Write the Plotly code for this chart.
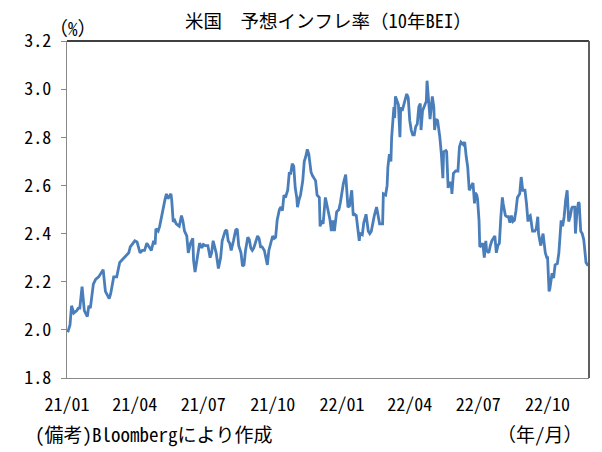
import pandas as pd
import plotly.graph_objects as go

# 10y breakeven inflation, US (%).
# day_offset = days since START, bei = value on that day
START = "2021-01-01"
END_OFFSET = 693

day_offset = [
    # 2021 Q1 - Q2
    1, 4, 6, 9, 13, 15, 17, 20, 23, 27, 29, 31, 35, 38, 42, 45, 48, 51, 56, 58,
    62, 66, 68, 70, 73, 76, 79, 82, 84, 87, 90, 93, 97, 100, 103, 106, 109, 112, 115,
    117, 118, 121, 123, 127, 130, 132, 134, 138, 139, 141, 143, 145, 149, 152, 154,
    156, 159, 161, 164, 167, 168, 170, 173, 176, 179,
    # 2021 Q3 - Q4
    181, 184, 187, 190, 192, 194, 198, 201, 204, 206, 210, 212, 214, 216, 218, 221,
    224, 226, 228, 231, 233, 235, 237, 240, 242, 244, 246, 248, 251, 253, 255, 257,
    259, 262, 264, 266, 268, 271, 273, 275, 277, 279, 282, 284, 286, 288, 290, 293,
    295, 297, 299, 301, 303, 305, 306, 308, 310, 313, 315, 317, 319, 321, 324, 326,
    328, 330, 332, 335, 336, 338, 340, 343, 349, 351, 353, 355, 358, 361, 363,
    # 2022 Q1 - Q2
    366, 367, 370, 371, 373, 375, 378, 380, 382, 384, 386, 388, 389, 392, 394, 397,
    400, 402, 404, 406, 408, 411, 413, 415, 419, 420, 423, 425, 426, 428, 430, 431,
    434, 435, 436, 438, 440, 442, 443, 445, 447, 450, 451, 453, 455, 457, 459, 461,
    463, 465, 467, 469, 470, 472, 475, 477, 478, 480, 482, 485, 487, 488, 490, 492,
    495, 497, 499, 500, 503, 504, 506, 508, 510, 511, 513, 516, 519, 521, 523, 526,
    528, 530, 532, 534, 537, 539, 541, 542, 544, 545,
    # 2022 Q3 - Q4
    547, 548, 550, 552, 554, 556, 557, 560, 562, 564, 568, 570, 572, 574, 576, 578,
    579, 582, 584, 586, 588, 590, 592, 594, 596, 598, 601, 603, 605, 608, 610, 612,
    613, 615, 616, 618, 621, 623, 625, 626, 628, 629, 632, 634, 635, 637, 638, 640,
    641, 644, 646, 648, 651, 653, 655, 656, 658, 660, 662, 664, 666, 668, 670, 671,
    674, 675, 677, 679, 680, 682, 684, 686, 687, 689, 691, 693,
]

bei = [
    # 2021 Q1 - Q2
    1.99, 2.02, 2.10, 2.07, 2.08, 2.09, 2.09, 2.18, 2.08, 2.055, 2.10, 2.09, 2.19, 2.21, 2.22, 2.235, 2.25, 2.16, 2.13, 2.15,
    2.22, 2.22, 2.25, 2.28, 2.29, 2.30, 2.31, 2.32, 2.345, 2.36, 2.37, 2.365, 2.32, 2.33, 2.33, 2.36, 2.345, 2.33, 2.37,
    2.355, 2.42, 2.41, 2.43, 2.50, 2.54, 2.565, 2.545, 2.565, 2.54, 2.45, 2.455, 2.44, 2.43, 2.475, 2.45,
    2.41, 2.39, 2.32, 2.36, 2.38, 2.29, 2.24, 2.31, 2.36, 2.34,
    # 2021 Q3 - Q4
    2.355, 2.35, 2.35, 2.30, 2.32, 2.37, 2.32, 2.255, 2.30, 2.37, 2.41, 2.415, 2.37, 2.36, 2.33, 2.37,
    2.415, 2.42, 2.35, 2.32, 2.265, 2.27, 2.33, 2.385, 2.375, 2.34, 2.33, 2.34, 2.375, 2.39, 2.38, 2.345,
    2.345, 2.33, 2.30, 2.27, 2.33, 2.36, 2.39, 2.38, 2.385, 2.455, 2.50, 2.51, 2.495, 2.56, 2.55, 2.58,
    2.65, 2.65, 2.69, 2.68, 2.59, 2.55, 2.51, 2.54, 2.56, 2.62, 2.70, 2.72, 2.75, 2.73, 2.655, 2.64,
    2.63, 2.62, 2.56, 2.55, 2.43, 2.455, 2.44, 2.55, 2.46, 2.41, 2.455, 2.41, 2.49, 2.50, 2.53,
    # 2022 Q1 - Q2
    2.61, 2.61, 2.645, 2.60, 2.51, 2.515, 2.58, 2.475, 2.48, 2.475, 2.43, 2.37, 2.40, 2.395, 2.445, 2.48,
    2.41, 2.40, 2.41, 2.445, 2.475, 2.51, 2.47, 2.44, 2.44, 2.565, 2.56, 2.60, 2.675, 2.73, 2.70, 2.80,
    2.925, 2.88, 2.97, 2.95, 2.935, 2.80, 2.925, 2.91, 2.935, 2.965, 2.98, 2.965, 2.87, 2.83, 2.81, 2.81,
    2.845, 2.855, 2.925, 2.94, 2.83, 2.91, 2.94, 2.95, 3.035, 2.95, 2.875, 2.97, 2.925, 2.83, 2.875, 2.87,
    2.80, 2.73, 2.63, 2.74, 2.745, 2.74, 2.59, 2.61, 2.61, 2.565, 2.65, 2.66, 2.66, 2.76, 2.78, 2.77,
    2.78, 2.72, 2.675, 2.58, 2.595, 2.61, 2.525, 2.57, 2.56, 2.545,
    # 2022 Q3 - Q4
    2.455, 2.345, 2.35, 2.36, 2.30, 2.37, 2.33, 2.32, 2.35, 2.37, 2.39, 2.32, 2.35, 2.36, 2.47, 2.55,
    2.525, 2.475, 2.47, 2.47, 2.445, 2.475, 2.45, 2.455, 2.495, 2.55, 2.565, 2.635, 2.58, 2.58, 2.525, 2.45,
    2.47, 2.475, 2.455, 2.41, 2.41, 2.42, 2.47, 2.40, 2.365, 2.35, 2.40, 2.35, 2.32, 2.30, 2.30, 2.16,
    2.17, 2.235, 2.215, 2.27, 2.275, 2.32, 2.41, 2.455, 2.43, 2.47, 2.54, 2.58, 2.45, 2.47, 2.505, 2.51,
    2.51, 2.40, 2.49, 2.53, 2.525, 2.41, 2.40, 2.375, 2.345, 2.28, 2.27, 2.27,
]

tick_dates = ["2021-01-01", "2021-04-01", "2021-07-01", "2021-10-01",
              "2022-01-01", "2022-04-01", "2022-07-01", "2022-10-01"]
tick_text = ["21/01", "21/04", "21/07", "21/10", "22/01", "22/04", "22/07", "22/10"]
y_ticks = [1.8, 2.0, 2.2, 2.4, 2.6, 2.8, 3.0, 3.2]

assert len(day_offset) == len(bei), (len(day_offset), len(bei))

start = pd.Timestamp(START)
dates = start + pd.to_timedelta(day_offset, unit="D")
end = start + pd.Timedelta(days=END_OFFSET)

FONT = "Noto Sans Mono CJK JP, Noto Sans CJK JP, sans-serif"
AXIS_GRAY = "#898989"

# the page body adds an 8px margin, so the figure is 8px smaller on each side
W, H = 594, 444

fig = go.Figure()
fig.add_trace(go.Scatter(x=dates, y=bei, mode="lines",
                         line=dict(color="#4A7EBB", width=2.8),
                         showlegend=False, hoverinfo="skip"))

fig.update_layout(
    width=W, height=H,
    margin=dict(l=59, r=13, t=33, b=74, autoexpand=False),
    paper_bgcolor="white", plot_bgcolor="white",
    font=dict(family=FONT, size=18, color="black"),
    showlegend=False,
)

fig.update_xaxes(
    type="date", range=[start, end], automargin=False,
    tickvals=tick_dates, ticktext=tick_text,
    showgrid=False, zeroline=False,
    showline=True, linecolor=AXIS_GRAY, linewidth=1.3,
    ticks="", ticklabelstandoff=10,
    tickfont=dict(size=18, color="black"),
)
fig.update_yaxes(
    range=[1.8, 3.2], tickvals=y_ticks, tickformat=".1f", automargin=False,
    showgrid=False, zeroline=False,
    showline=True, linecolor=AXIS_GRAY, linewidth=1.3,
    ticks="outside", ticklen=5, tickcolor=AXIS_GRAY, tickwidth=1.3,
    ticklabelstandoff=6,
    tickfont=dict(size=18, color="black"),
)

# plot frame: black top edge, dark grey right edge
fig.add_shape(type="line", xref="paper", yref="paper", x0=0, x1=1, y0=1, y1=1,
              line=dict(color="black", width=1.3))
fig.add_shape(type="line", xref="paper", yref="paper", x0=1, x1=1, y0=0, y1=1,
              line=dict(color="#5f5f5f", width=2))

# title as a paper annotation centred over the plot
fig.add_annotation(text="米国　予想インフレ率（10年BEI）", xref="paper", yref="paper",
                   x=0.5, y=1.062, xanchor="center", yanchor="middle",
                   showarrow=False, font=dict(size=18.5))
fig.add_annotation(text="（%）", xref="paper", yref="paper", x=0.012, y=1.0386,
                   xanchor="center", yanchor="middle", showarrow=False,
                   font=dict(size=19))
fig.add_annotation(text="(備考)Bloombergにより作成", xref="paper", yref="paper",
                   x=-0.065, y=-0.166, xanchor="left", yanchor="middle",
                   showarrow=False, font=dict(size=19))
fig.add_annotation(text="（年/月）", xref="paper", yref="paper",
                   x=0.992, y=-0.166, xanchor="right", yanchor="middle",
                   showarrow=False, font=dict(size=19))

fig.write_html("out.html")
